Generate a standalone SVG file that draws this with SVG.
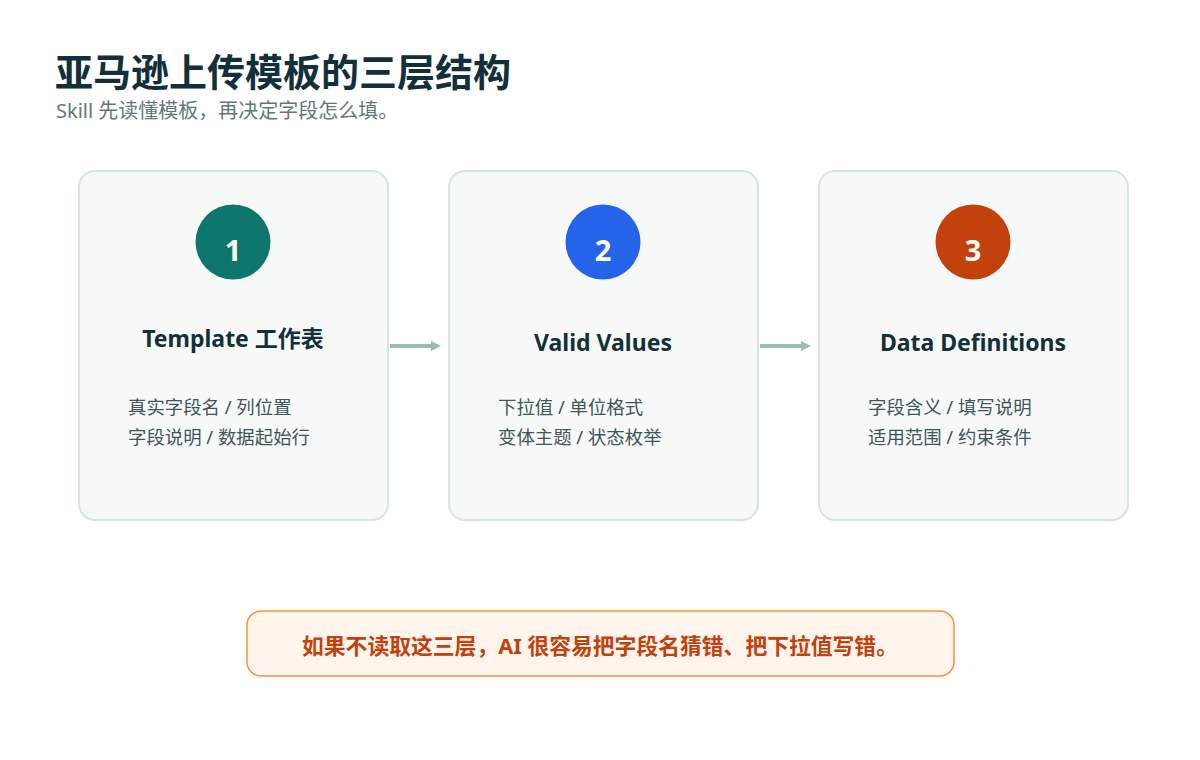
<svg xmlns="http://www.w3.org/2000/svg" width="1200" height="760" viewBox="0 0 1200 760">
<style>
text{font-family:"Noto Sans","Noto Sans CJK SC",sans-serif}
.title{font-size:38px;font-weight:700;fill:#12303a}
.sub{font-size:20px;fill:#637777}
.card{fill:#f7f9f9;stroke:#d7e5e2;stroke-width:2}
.num{font-size:29px;font-weight:700;fill:#fff;text-anchor:middle}
.head{font-size:23px;font-weight:700;fill:#12303a;text-anchor:middle}
.line{font-size:18.4px;fill:#3f5658}
.conn{stroke:#9bbcb4;stroke-width:4;fill:none}
.note{fill:#fff5ec;stroke:#f4953f;stroke-width:1.5}
.notetext{font-size:21.8px;font-weight:700;fill:#c2410c;text-anchor:middle}
</style>
<defs>
<marker id="ah" markerWidth="10" markerHeight="10" refX="0" refY="5" orient="auto" markerUnits="userSpaceOnUse" viewBox="0 0 10 10">
<path d="M0,0 L10,5 L0,10 Z" fill="#9bbcb4"/>
</marker>
</defs>
<rect width="1200" height="760" fill="#ffffff"/>
<text class="title" x="55" y="86">亚马逊上传模板的三层结构</text>
<text class="sub" x="56" y="118">Skill 先读懂模板，再决定字段怎么填。</text>
<g id="connectors">
<line class="conn" x1="390" y1="346" x2="431" y2="346" marker-end="url(#ah)"/>
<line class="conn" x1="760" y1="346" x2="801" y2="346" marker-end="url(#ah)"/>
</g>
<g id="node1">
<rect class="card" x="79" y="171" width="309" height="349" rx="16"/>
<circle cx="233" cy="242" r="37.5" fill="#0f766e"/>
<text class="num" x="233" y="261">1</text>
<text class="head" x="233" y="347">Template 工作表</text>
<text class="line" x="128" y="414">真实字段名 / 列位置</text>
<text class="line" x="128" y="444">字段说明 / 数据起始行</text>
</g>
<g id="node2">
<rect class="card" x="449" y="171" width="309" height="349" rx="16"/>
<circle cx="603" cy="242" r="37.5" fill="#2563eb"/>
<text class="num" x="603" y="261">2</text>
<text class="head" x="603" y="351">Valid Values</text>
<text class="line" x="498" y="414">下拉值 / 单位格式</text>
<text class="line" x="498" y="444">变体主题 / 状态枚举</text>
</g>
<g id="node3">
<rect class="card" x="819" y="171" width="309" height="349" rx="16"/>
<circle cx="973" cy="242" r="37.5" fill="#c2410c"/>
<text class="num" x="973" y="261">3</text>
<text class="head" x="973" y="351">Data Definitions</text>
<text class="line" x="868" y="414">字段含义 / 填写说明</text>
<text class="line" x="868" y="444">适用范围 / 约束条件</text>
</g>
<g id="note">
<rect class="note" x="247" y="611" width="707" height="65" rx="14"/>
<text class="notetext" x="600" y="654">如果不读取这三层，AI 很容易把字段名猜错、把下拉值写错。</text>
</g>
</svg>
